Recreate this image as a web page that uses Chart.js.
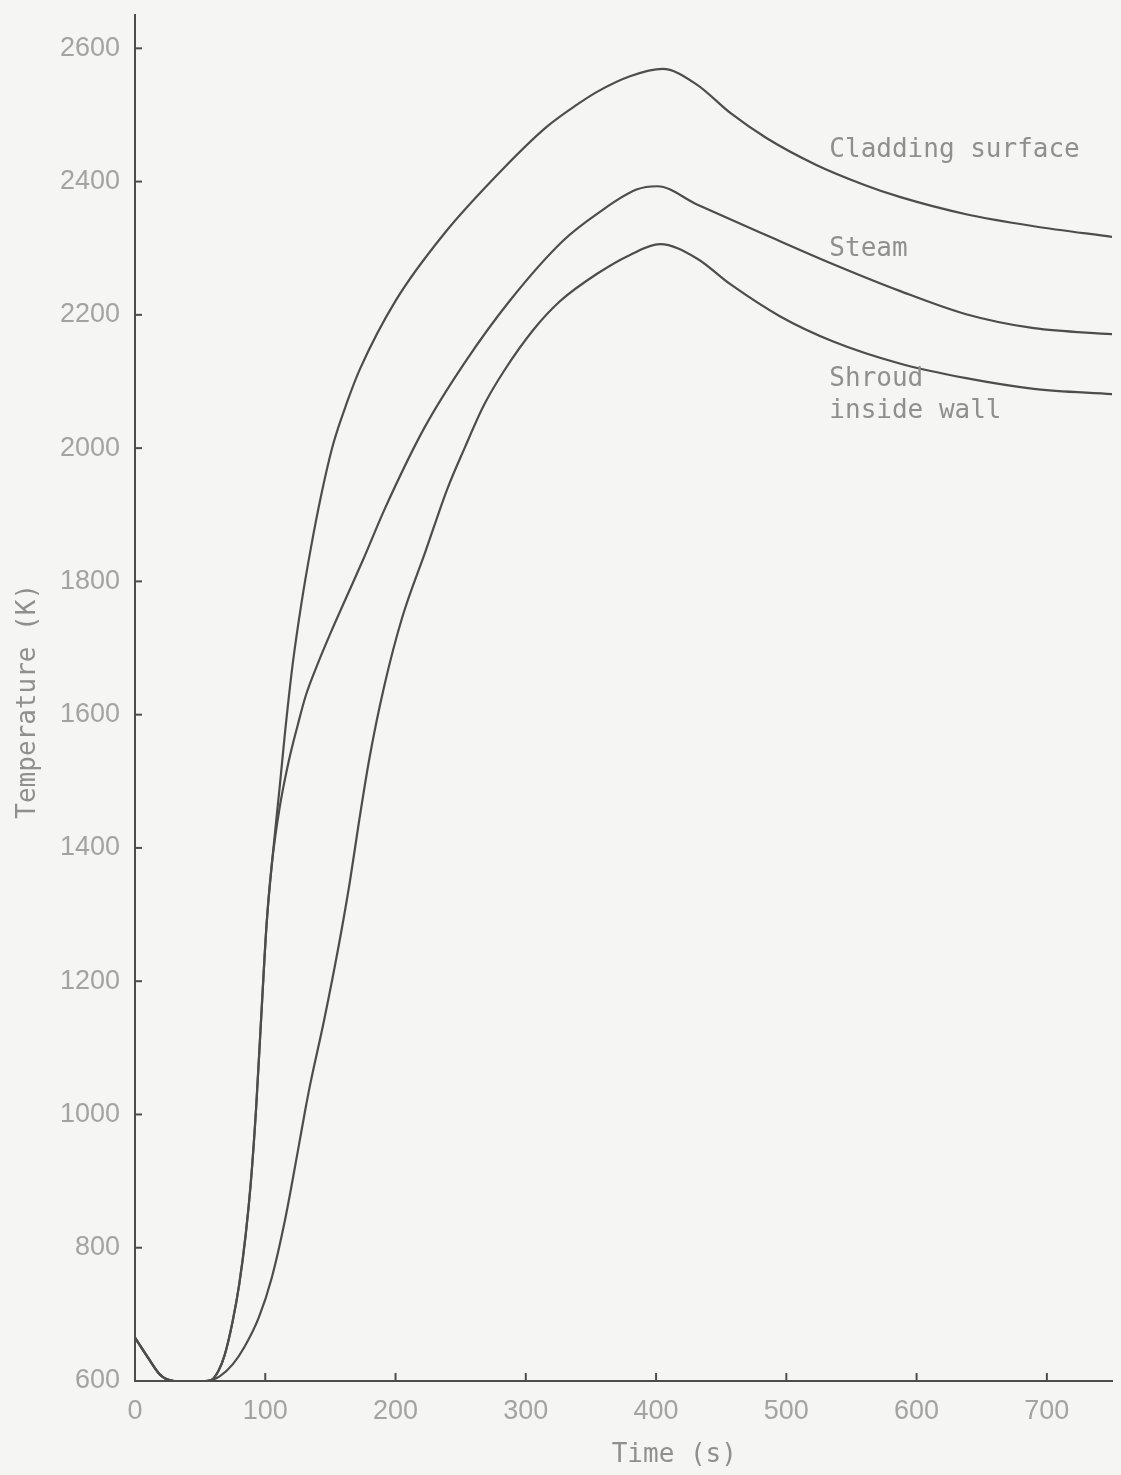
<!DOCTYPE html>
<html>
<head>
  <title>Temperature vs time</title>
  <script src="https://cdn.jsdelivr.net/npm/chart.js"></script>
  <style>
    body { margin: 0; background: #f5f5f3; }
    canvas { display: block; }
  </style>
</head>
<body>
  <canvas id="chart" width="1121" height="1475"></canvas>

  <script>
    // series (time in s, temperature in K)
    const seriesNames = ["Cladding surface", "Steam", "Shroud inside wall"];

    const cladTime = [0, 10, 20, 30, 45, 58, 64, 69, 75, 80, 85, 89, 93, 97, 101, 105, 111, 115, 121, 128, 135, 143, 152, 163, 173, 200, 237, 283, 316, 339, 355, 380, 405, 431, 457, 485, 523, 560, 587, 638, 690, 750];
    const cladTemp = [665, 635, 608, 600, 599, 601, 615, 640, 690, 745, 820, 900, 1010, 1150, 1285, 1375, 1490, 1570, 1675, 1770, 1850, 1930, 2005, 2070, 2120, 2221, 2321, 2420, 2482, 2515, 2535, 2558, 2569, 2546, 2503, 2465, 2425, 2395, 2377, 2351, 2333, 2317];

    const steamTime = [0, 10, 20, 30, 45, 58, 64, 69, 75, 80, 85, 89, 93, 97, 101, 105, 111, 118, 125, 131, 140, 150, 162, 175, 192, 222, 253, 288, 329, 355, 385, 401, 431, 483, 536, 587, 638, 690, 750];
    const steamTemp = [665, 635, 608, 600, 599, 601, 615, 640, 690, 745, 820, 900, 1010, 1150, 1285, 1375, 1460, 1530, 1585, 1628, 1675, 1722, 1775, 1832, 1910, 2030, 2128, 2222, 2312, 2352, 2388, 2393, 2366, 2321, 2276, 2236, 2201, 2180, 2171];

    const shroudTime = [0, 10, 20, 30, 45, 56, 65, 75, 84, 95, 105, 115, 125, 131, 135, 145, 157, 165, 172, 180, 191, 205, 223, 240, 253, 268, 283, 306, 326, 355, 380, 403, 431, 457, 495, 536, 587, 638, 690, 750];
    const shroudTemp = [665, 635, 608, 600, 599, 600, 607, 625, 651, 695, 755, 840, 945, 1010, 1050, 1140, 1260, 1350, 1440, 1535, 1640, 1745, 1845, 1940, 2000, 2065, 2115, 2178, 2220, 2262, 2290, 2306, 2285, 2246, 2198, 2160, 2127, 2105, 2089, 2081];

    const xTicks = [0, 100, 200, 300, 400, 500, 600, 700];
    const yTicks = [600, 800, 1000, 1200, 1400, 1600, 1800, 2000, 2200, 2400, 2600];

    function toPoints(xs, ys) {
      return xs.map((x, i) => ({ x: x, y: ys[i] }));
    }

    const lineColor = "#4d4d4d";
    const textColor = "#8f8f8f";
    const monoFont = "'DejaVu Sans Mono', monospace";

    // labels beside the curves and the axis titles, placed in data units
    const labelPlugin = {
      id: "curveLabels",
      afterDraw(chart) {
        const ctx = chart.ctx;
        const xs = chart.scales.x, ys = chart.scales.y;
        ctx.save();

        // inward tick marks
        ctx.strokeStyle = lineColor;
        ctx.lineWidth = 2;
        yTicks.forEach(v => {
          const py = ys.getPixelForValue(v);
          ctx.beginPath();
          ctx.moveTo(xs.left, py);
          ctx.lineTo(xs.left + 7, py);
          ctx.stroke();
        });
        xTicks.forEach(v => {
          const px = xs.getPixelForValue(v);
          ctx.beginPath();
          ctx.moveTo(px, ys.bottom);
          ctx.lineTo(px, ys.bottom - 8);
          ctx.stroke();
        });

        ctx.fillStyle = textColor;
        ctx.font = "26px " + monoFont;
        ctx.textAlign = "left";
        ctx.textBaseline = "middle";
        const lx = xs.getPixelForValue(533);
        ctx.fillText(seriesNames[0], lx, ys.getPixelForValue(2447));
        ctx.fillText(seriesNames[1], lx, ys.getPixelForValue(2299));
        ctx.fillText("Shroud", lx, ys.getPixelForValue(2104));
        ctx.fillText("inside wall", lx, ys.getPixelForValue(2055));

        // axis titles
        ctx.textAlign = "center";
        ctx.fillText("Time (s)", xs.getPixelForValue(414), 1455);
        ctx.translate(28, ys.getPixelForValue(1620));
        ctx.rotate(-Math.PI / 2);
        ctx.fillText("Temperature (K)", 0, 0);
        ctx.restore();
      }
    };

    const ds = (label, xs, ys) => ({
      label: label,
      data: toPoints(xs, ys),
      borderColor: lineColor,
      borderWidth: 2.2,
      pointRadius: 0,
      fill: false,
      cubicInterpolationMode: "monotone"
    });

    const tickFont = { family: "'Liberation Sans', sans-serif", size: 27 };

    new Chart(document.getElementById("chart"), {
      type: "line",
      data: {
        datasets: [
          ds(seriesNames[0], cladTime, cladTemp),
          ds(seriesNames[1], steamTime, steamTemp),
          ds(seriesNames[2], shroudTime, shroudTemp)
        ]
      },
      options: {
        responsive: false,
        animation: false,
        layout: { padding: { left: 0, top: 15, right: 9, bottom: 0 } },
        plugins: { legend: { display: false }, tooltip: { enabled: false } },
        scales: {
          x: {
            type: "linear",
            min: 0,
            max: 750,
            afterBuildTicks: axis => { axis.ticks = xTicks.map(v => ({ value: v })); },
            afterFit: axis => {
              axis.height = 94;
              axis.paddingLeft = 0;
              axis.paddingRight = 0;
            },
            grid: { display: false, drawTicks: false },
            border: { display: true, color: lineColor, width: 2 },
            ticks: {
              padding: 14,
              color: "#a3a3a3",
              font: tickFont,
              maxRotation: 0,
              callback: v => String(v)
            }
          },
          y: {
            type: "linear",
            min: 600,
            max: 2650,
            afterBuildTicks: axis => { axis.ticks = yTicks.map(v => ({ value: v })); },
            afterFit: axis => {
              axis.width = 135;
              axis.paddingTop = 0;
              axis.paddingBottom = 0;
            },
            grid: { display: false, drawTicks: false },
            border: { display: true, color: lineColor, width: 2 },
            ticks: {
              padding: 15,
              color: "#a3a3a3",
              font: tickFont,
              callback: v => String(v)
            }
          }
        }
      },
      plugins: [labelPlugin]
    });
  </script>
</body>
</html>
